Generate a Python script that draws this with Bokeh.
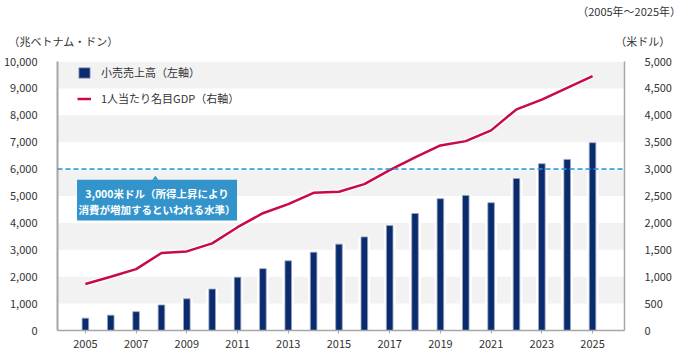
from bokeh.plotting import figure
from bokeh.models import (Range1d, LinearAxis, FixedTicker, NumeralTickFormatter, BoxAnnotation,
                          PolyAnnotation, Span, Label, Legend, LegendItem, ColumnDataSource, Title)
from bokeh.embed import file_html
from bokeh.resources import INLINE

years = list(range(2005, 2026))
retail_sales = [460, 570, 700, 950, 1180, 1540, 1980, 2300, 2590, 2910, 3210,
                3480, 3900, 4350, 4900, 5020, 4750, 5650, 6200, 6360, 6980]
gdp_per_capita = [864, 1000, 1140, 1440, 1470, 1620, 1920, 2180, 2350, 2560, 2580,
                  2720, 2980, 3220, 3440, 3520, 3720, 4110, 4290, 4510, 4730]
x_ticks = list(range(2005, 2026, 2))
left_ticks = list(range(0, 10001, 1000))
right_ticks = list(range(0, 5001, 500))
threshold_usd = 3000

FONT = "Noto Sans CJK JP"
NAVY = "#0a2b6e"
CRIMSON = "#c80a46"
BLUE = "#2196d8"
GRAY_TXT = "#333333"

X0, X1 = 2003.9, 2026.26

src = ColumnDataSource(dict(year=years, sales=retail_sales, gdp=gdp_per_capita))

p = figure(width=680, height=360, output_backend="svg", toolbar_location=None,
           x_range=Range1d(X0, X1), y_range=Range1d(0, 10000),
           min_border_left=57, min_border_right=56, min_border_top=61, min_border_bottom=30)
p.extra_y_ranges = {"usd": Range1d(0, 5000)}
p.outline_line_color = None
p.xgrid.grid_line_color = None
p.ygrid.grid_line_color = None
p.background_fill_color = "white"

# alternating bands
for lo in range(1000, 10000, 2000):
    p.add_layout(BoxAnnotation(bottom=lo, top=lo + 1000, fill_color="#f2f2f2", fill_alpha=1,
                               line_color=None, level="underlay"))

# white gaps around bars
p.vbar(x="year", top="sales", width=0.46, source=src, fill_color="white", line_color=None)
bars = p.vbar(x="year", top="sales", width=0.26, source=src, fill_color=NAVY,
              line_color="#9aa6c0", line_width=0.8)

# threshold line
p.add_layout(Span(location=threshold_usd, y_range_name="usd", dimension="width",
                  line_color=BLUE, line_dash="5 3", line_width=1.5))

p.line(x="year", y="gdp", source=src, y_range_name="usd", line_color="white", line_width=5)
gl = p.line(x="year", y="gdp", source=src, y_range_name="usd", line_color=CRIMSON, line_width=2.5)

# axes
p.xaxis.ticker = FixedTicker(ticks=x_ticks)
p.xaxis.axis_line_color = "#a6a6a6"
p.xaxis.axis_line_width = 1.5
p.xaxis.major_tick_line_color = "#a6a6a6"
p.xaxis.major_tick_out = 3
p.xaxis.major_tick_in = 0
p.xaxis.minor_tick_line_color = None
p.xaxis.major_label_standoff = 6

p.yaxis.ticker = FixedTicker(ticks=left_ticks)
p.yaxis.formatter = NumeralTickFormatter(format="0,0")
p.yaxis.axis_line_color = "#a6a6a6"
p.yaxis.axis_line_width = 2
p.yaxis.major_tick_line_color = None
p.yaxis.minor_tick_line_color = None
p.yaxis.major_label_standoff = 14

ra = LinearAxis(y_range_name="usd", ticker=FixedTicker(ticks=right_ticks),
                formatter=NumeralTickFormatter(format="0,0"))
ra.axis_line_color = "#a6a6a6"
ra.axis_line_width = 1.5
ra.major_tick_line_color = None
ra.minor_tick_line_color = None
ra.major_label_standoff = 14
p.add_layout(ra, "right")

for ax in [p.xaxis[0], p.yaxis[0], ra]:
    ax.major_label_text_font = FONT
    ax.major_label_text_font_size = "11px"
    ax.major_label_text_color = GRAY_TXT

# callout
p.add_layout(BoxAnnotation(left=2004.67, right=2010.98, bottom=4089, top=5602,
                           fill_color="#3394cc", fill_alpha=1, line_color=None))
p.add_layout(PolyAnnotation(xs=[2007.64, 2007.76, 2007.88], ys=[5602, 5751, 5602],
                            fill_color="#3394cc", fill_alpha=1, line_color=None))
p.add_layout(Label(x=2007.83, y=5104, text="3,000米ドル（所得上昇により", text_font=FONT,
                   text_font_size="10.5px", text_font_style="bold", text_color="white",
                   text_align="center", text_baseline="middle"))
p.add_layout(Label(x=2007.83, y=4487, text="消費が増加するといわれる水準）", text_font=FONT,
                   text_font_size="10.5px", text_font_style="bold", text_color="white",
                   text_align="center", text_baseline="middle"))

# legend
legend = Legend(items=[LegendItem(label="小売売上高（左軸）", renderers=[bars]),
                       LegendItem(label="1人当たり名目GDP（右軸）", renderers=[gl])],
                location=(20, 224), padding=0, margin=0, spacing=10,
                glyph_width=14, glyph_height=13, label_height=13, label_standoff=10,
                label_text_font=FONT, label_text_font_size="11px", label_text_color=GRAY_TXT,
                background_fill_alpha=0, border_line_color=None)
p.add_layout(legend)

# captions above the frame (one multi-line title; full-width spaces set the horizontal spots)
period_text = "（2005年～2025年）"
left_unit = "（兆ベトナム・ドン）"
right_unit = "（米ドル）"
line1 = "\u3000" * 51 + "\u2002\u2009" + period_text
blank = "\u3000"
line4 = left_unit + "\u3000" * 45 + "\u2002\u2009" + right_unit
p.add_layout(Title(text="\n".join([line1, blank, blank, line4, blank]), align="left", offset=-49,
                   standoff=0, vertical_align="top", text_font=FONT, text_font_size="11px",
                   text_font_style="normal", text_color=GRAY_TXT, text_line_height=0.645),
             "above")

open("out.html", "w").write(file_html(p, INLINE))
